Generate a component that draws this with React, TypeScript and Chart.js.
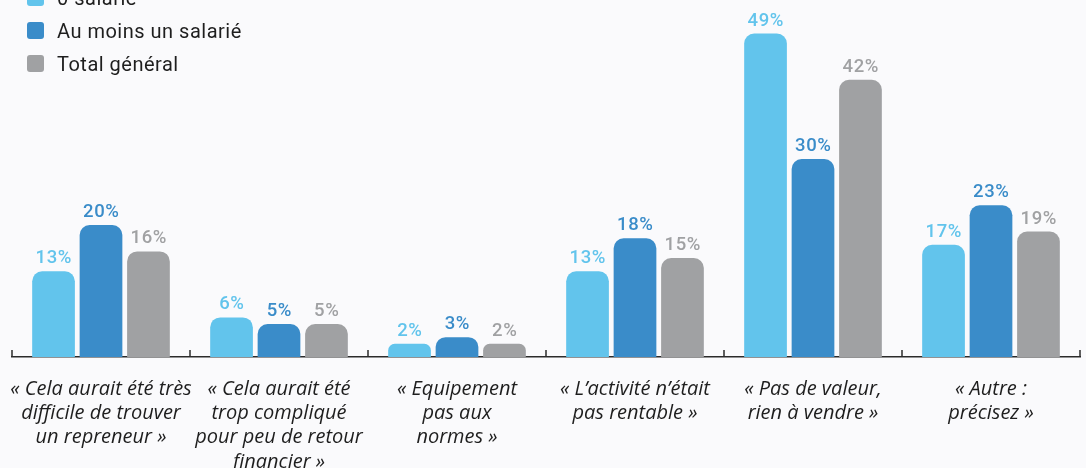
import React, { useEffect, useRef } from "react";
import { Chart, registerables } from "chart.js";

Chart.register(...registerables);

const categories: string[][] = [
  ["« Cela aurait été très", "difficile de trouver", "un repreneur »"],
  ["« Cela aurait été", "trop compliqué", "pour peu de retour", "financier »"],
  ["« Equipement", "pas aux", "normes »"],
  ["« L’activité n’était", "pas rentable »"],
  ["« Pas de valeur,", "rien à vendre »"],
  ["« Autre :", "précisez »"],
];
const seriesNames = ["0 salarié", "Au moins un salarié", "Total général"];
const zeroSalarie = [13, 6, 2, 13, 49, 17];
const auMoinsUnSalarie = [20, 5, 3, 18, 30, 23];
const totalGeneral = [16, 5, 2, 15, 42, 19];
const seriesColors = ["#62C4EC", "#3A8CC9", "#A0A1A3"];

const W = 1086;
const H = 468;

const valueLabels = {
  id: "valueLabels",
  afterDatasetsDraw(chart: any) {
    const ctx = chart.ctx;
    ctx.save();
    ctx.font = "500 18.5px Roboto";
    (ctx as any).letterSpacing = "0.6px";
    ctx.textAlign = "center";
    ctx.textBaseline = "alphabetic";
    chart.data.datasets.forEach((ds: any, di: number) => {
      const meta = chart.getDatasetMeta(di);
      meta.data.forEach((el: any, i: number) => {
        ctx.fillStyle = ds.backgroundColor;
        ctx.fillText(ds.data[i] + "%", el.x + 0.3, el.y - 8);
      });
    });
    ctx.restore();
  },
};

const axisTicks = {
  id: "axisTicks",
  afterDraw(chart: any) {
    const ctx = chart.ctx;
    const xs = chart.scales.x;
    const y = chart.chartArea.bottom;
    ctx.save();
    ctx.strokeStyle = "#2b2b2b";
    ctx.lineWidth = 1.5;
    for (let i = 0; i <= categories.length; i++) {
      const x = xs.getPixelForValue(i - 0.5);
      ctx.beginPath();
      ctx.moveTo(x, y);
      ctx.lineTo(x, y - 7);
      ctx.stroke();
    }
    ctx.restore();
  },
};

const topLegend = {
  id: "topLegend",
  afterDraw(chart: any) {
    const ctx = chart.ctx;
    ctx.save();
    ctx.font = "20px Roboto";
    (ctx as any).letterSpacing = "0.5px";
    ctx.textAlign = "left";
    ctx.textBaseline = "middle";
    chart.data.datasets.forEach((ds: any, i: number) => {
      const cy = -2.5 + 33 * i;
      ctx.fillStyle = ds.backgroundColor;
      ctx.beginPath();
      (ctx as any).roundRect(27, cy - 8.5, 17, 17, 3);
      ctx.fill();
      ctx.fillStyle = "#1e1e1e";
      ctx.fillText(ds.label, 57, cy + 2);
    });
    ctx.restore();
  },
};

export default function App() {
  const ref = useRef<HTMLCanvasElement | null>(null);

  useEffect(() => {
    if (!ref.current) return;
    const seriesData = [zeroSalarie, auMoinsUnSalarie, totalGeneral];
    const chart = new Chart(ref.current, {
      type: "bar",
      data: {
        labels: categories,
        datasets: seriesNames.map((name, i) => ({
          label: name,
          data: seriesData[i],
          backgroundColor: seriesColors[i],
          borderWidth: 0,
          borderSkipped: "start",
          borderRadius: { topLeft: 10, topRight: 10, bottomLeft: 0, bottomRight: 0 },
          categoryPercentage: 0.8,
          barPercentage: 0.9,
        })),
      },
      options: {
        animation: false,
        responsive: false,
        devicePixelRatio: 1,
        layout: { padding: { top: 27, left: 12, right: 6, bottom: 0 } },
        plugins: {
          legend: { display: false },
          tooltip: { enabled: false },
        },
        scales: {
          x: {
            grid: { display: false },
            border: { display: true, color: "#2b2b2b", width: 1.5 },
            ticks: {
              color: "#1e1e1e",
              font: { family: "Open Sans", style: "italic", weight: "normal", size: 20, lineHeight: 1.215 },
              padding: 12,
              maxRotation: 0,
              minRotation: 0,
              autoSkip: false,
            },
            afterFit: (s: any) => {
              s.height = 111;
              s.paddingLeft = 0;
              s.paddingRight = 0;
            },
          },
          y: { display: false, min: 0, max: 50 },
        },
      },
      plugins: [valueLabels, axisTicks, topLegend],
    } as any);
    return () => chart.destroy();
  }, []);

  return (
    <div
      style={{
        position: "fixed",
        left: 0,
        top: 0,
        width: W,
        height: H,
        background: "#fafafc",
        overflow: "hidden",
      }}
    >
      <canvas ref={ref} width={W} height={H} style={{ width: W, height: H, display: "block" }} />
    </div>
  );
}
